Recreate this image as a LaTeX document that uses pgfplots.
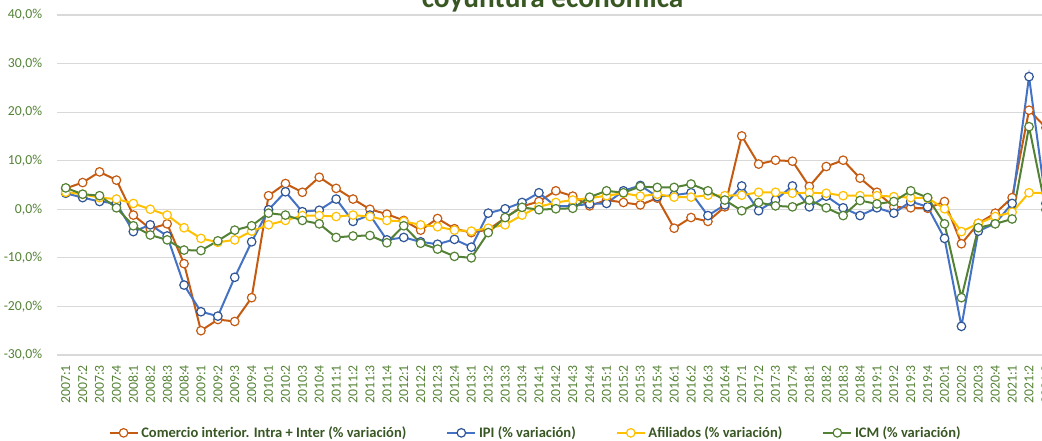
\documentclass[border=0pt]{standalone}
\usepackage{fontspec}
\setmainfont{Carlito}
\usepackage{pgfplots}
\usepackage{pgfplotstable}
\pgfplotsset{compat=1.18}

\definecolor{cOrange}{HTML}{C55A11}
\definecolor{cBlue}{HTML}{4472C4}
\definecolor{cBlueEdge}{HTML}{2F5597}
\definecolor{cYellow}{HTML}{FFC000}
\definecolor{cGreen}{HTML}{548235}
\definecolor{cTick}{HTML}{548235}
\definecolor{cTitle}{HTML}{385723}
\definecolor{cGrid}{HTML}{D9D9D9}

% trimestre, comercio, IPI, afiliados, ICM (% variacion)
\pgfplotstableread{
i  com   ipi   afi   icm
0  4.3   3.3   3.5   4.4
1  5.5   2.4   3.1   3.1
2  7.7   1.6   2.4   2.8
3  6.0   1.2   2.1   0.3
4  -1.2  -4.6  1.2   -3.4
5  -4.0  -3.2  0.0   -5.3
6  -3.0  -5.5  -1.2  -6.3
7  -11.2 -15.6 -3.8  -8.4
8  -25.0 -21.1 -6.0  -8.5
9  -22.7 -22.0 -6.8  -6.5
10 -23.1 -14.0 -6.3  -4.3
11 -18.2 -6.7  -4.5  -3.4
12 2.8   -0.1  -3.2  -0.8
13 5.3   3.6   -2.3  -1.2
14 3.5   -0.5  -1.3  -2.3
15 6.6   -0.2  -1.3  -3.0
16 4.3   2.1   -1.5  -5.8
17 2.1   -2.5  -1.2  -5.5
18 0.0   -1.2  -1.5  -5.4
19 -1.0  -6.3  -2.3  -6.9
20 -2.3  -5.8  -2.5  -3.4
21 -4.3  -6.7  -3.2  -7.0
22 -1.9  -7.2  -3.6  -8.2
23 -4.0  -6.2  -4.3  -9.7
24 -4.8  -7.8  -4.5  -10.0
25 -4.2  -0.8  -3.9  -4.8
26 -1.8  0.1   -3.2  -1.7
27 0.6   1.4   -1.2  0.4
28 1.6   3.4   0.5   -0.1
29 3.8   0.6   1.4   0.1
30 2.7   0.7   1.9   0.2
31 0.7   1.1   2.3   2.5
32 1.9   1.2   2.8   3.8
33 1.4   3.8   3.3   3.4
34 0.9   4.9   2.7   4.7
35 2.3   2.6   3.1   4.5
36 -3.9  2.9   2.5   4.5
37 -1.7  3.4   2.5   5.2
38 -2.5  -1.3  2.9   3.8
39 0.5   0.9   2.8   1.9
40 15.1  4.8   2.9   -0.3
41 9.3   -0.3  3.5   1.4
42 10.1  1.9   3.5   0.7
43 9.9   4.8   3.3   0.5
44 4.7   0.5   3.4   1.9
45 8.8   2.7   3.3   0.3
46 10.1  0.3   2.8   -1.3
47 6.4   -1.3  2.8   1.8
48 3.5   0.3   2.8   1.1
49 0.5   -0.8  2.6   1.6
50 0.3   1.6   2.4   3.8
51 0.2   0.5   2.3   2.4
52 1.6   -6.0  0.1   -3.0
53 -7.1  -24.1 -4.6  -18.2
54 -2.9  -4.5  -2.9  -3.8
55 -0.8  -2.9  -1.5  -3.0
56 2.4   1.2   -0.6  -2.0
57 20.4  27.3  3.4   17.0
58 16.8  1.2   3.4   -0.1
}\datos

\begin{document}
\begin{tikzpicture}
% the source picture is cut on the right and at the top
\path[use as bounding box] (0,0) rectangle (781.5pt,330.75pt);
\clip (0,0) rectangle (781.5pt,330.75pt);

\node[anchor=base, font=\fontsize{22}{26}\selectfont\bfseries, text=cTitle]
  at (414.4pt,324.75pt) {coyuntura económica};

\begin{axis}[
    at={(42.98pt,319.5pt)}, anchor=north west,
    scale only axis,
    width=747.8pt, height=255pt,
    xmin=-0.5, xmax=58.5,
    ymin=-30, ymax=40,
    ytick={-30,-20,...,40},
    yticklabel={\pgfmathprintnumber[fixed,fixed zerofill,precision=1,use comma]{\tick}\%},
    /pgf/number format/assume math mode=true,
    xtick={0,...,58},
    xticklabels={2007:1,2007:2,2007:3,2007:4,2008:1,2008:2,2008:3,2008:4,
      2009:1,2009:2,2009:3,2009:4,2010:1,2010:2,2010:3,2010:4,
      2011:1,2011:2,2011:3,2011:4,2012:1,2012:2,2012:3,2012:4,
      2013:1,2013:2,2013:3,2013:4,2014:1,2014:2,2014:3,2014:4,
      2015:1,2015:2,2015:3,2015:4,2016:1,2016:2,2016:3,2016:4,
      2017:1,2017:2,2017:3,2017:4,2018:1,2018:2,2018:3,2018:4,
      2019:1,2019:2,2019:3,2019:4,2020:1,2020:2,2020:3,2020:4,
      2021:1,2021:2,2021:3},
    xticklabel style={yshift=-7.5pt, rotate=90, anchor=east, inner sep=0pt,
      font=\fontsize{10.3}{12}\selectfont, text=cTick},
    yticklabel style={xshift=-11.2pt, anchor=east, inner sep=0pt,
      font=\fontsize{10.3}{12}\selectfont, text=cTick},
    major tick length=0pt,
    axis line style={draw=none},
    ymajorgrids,
    grid style={draw=cGrid, line width=0.9pt},
    legend columns=4,
    legend style={at={(0.48,-0.229)}, anchor=center, draw=none, fill=none,
      font=\fontsize{10.9}{12}\selectfont\bfseries, text=cTitle,
      /tikz/every even column/.append style={column sep=28pt}},
    legend image code/.code={
      \draw[#1, mark repeat=2, mark phase=2]
        plot coordinates {(0cm,0cm) (0.37cm,0cm) (0.74cm,0cm)};},
    every axis plot/.append style={line width=1.5pt, mark=*, mark size=3.2pt},
]
\addplot[color=cOrange, mark options={fill=white, draw=cOrange, line width=0.9pt}]
  table[x=i, y=com] {\datos};
\addplot[color=cBlue, mark options={fill=white, draw=cBlueEdge, line width=0.9pt}]
  table[x=i, y=ipi] {\datos};
\addplot[color=cYellow, mark options={fill=white, draw=cYellow, line width=0.9pt}]
  table[x=i, y=afi] {\datos};
\addplot[color=cGreen, mark options={fill=white, draw=cGreen, line width=0.9pt}]
  table[x=i, y=icm] {\datos};
\legend{Comercio interior. Intra + Inter (\% variación), IPI (\% variación),
  Afiliados (\% variación), ICM (\% variación)}
\end{axis}
\end{tikzpicture}
\end{document}
